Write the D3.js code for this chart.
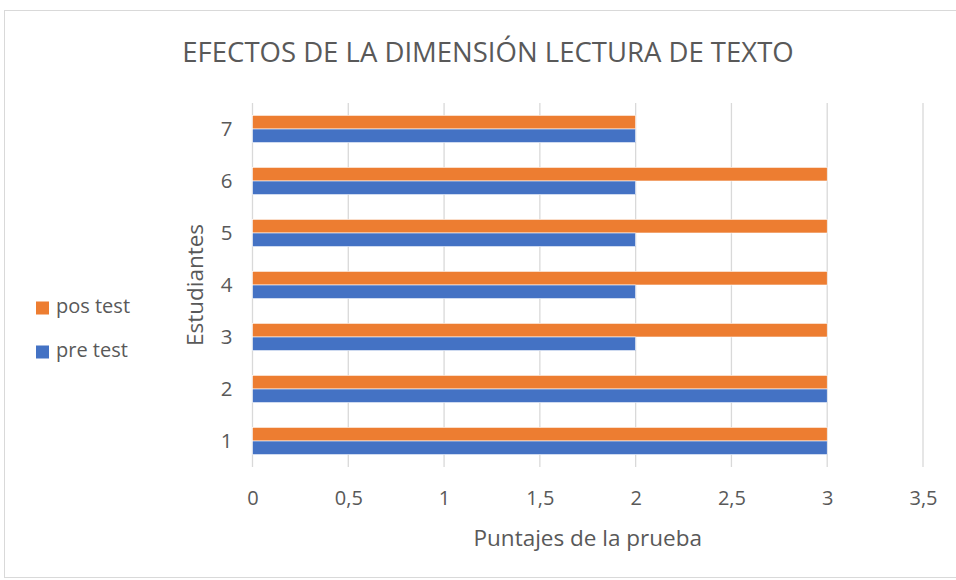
<!DOCTYPE html>
<html>
<head>
<meta charset="utf-8">
<script src="https://cdn.jsdelivr.net/npm/d3@7"></script>
<style>
  body { margin: 0; background: #fff; }
  text { font-family: "Open Sans", "Noto Sans", sans-serif; fill: #595959; }
</style>
</head>
<body>
<div id="chart"></div>
<script>
// data
var students = ["1", "2", "3", "4", "5", "6", "7"];
var preTest = [3, 3, 2, 2, 2, 2, 2];
var posTest = [3, 3, 3, 3, 3, 3, 2];
var xTicks = [0, 0.5, 1, 1.5, 2, 2.5, 3, 3.5];
var seriesNames = ["pos test", "pre test"];
var seriesColors = ["#ED7D31", "#4472C4"];

var width = 956, height = 580;
var margin = {top: 103, right: 33, bottom: 113, left: 252.5};
var innerW = width - margin.left - margin.right,
    innerH = height - margin.top - margin.bottom;

var svg = d3.select("#chart").append("svg")
    .attr("width", width)
    .attr("height", height);

// chart border
svg.append("rect")
    .attr("x", 4.5).attr("y", 10.5)
    .attr("width", 960).attr("height", 567)
    .attr("fill", "none")
    .attr("stroke", "#d9d9d9");

var g = svg.append("g")
    .attr("transform", "translate(" + margin.left + "," + margin.top + ")");

var x = d3.scaleLinear().domain([0, 3.5]).range([0, innerW]);
var y = d3.scaleBand().domain(students.slice().reverse()).range([0, innerH]).paddingInner(0.475).paddingOuter(0.2375);
var y1 = d3.scaleBand().domain(seriesNames).range([0, y.bandwidth()]);

// gridlines
g.selectAll(".grid").data(xTicks).enter().append("line")
    .attr("x1", function(d) { return x(d); })
    .attr("x2", function(d) { return x(d); })
    .attr("y1", 0).attr("y2", innerH)
    .attr("stroke", "#d9d9d9")
    .attr("stroke-width", 1.3);

// bars
var rows = students.map(function(s, i) {
  return {student: s, values: [posTest[i], preTest[i]]};
});

var grp = g.selectAll(".row").data(rows).enter().append("g")
    .attr("transform", function(d) { return "translate(0," + y(d.student) + ")"; });

grp.selectAll("rect").data(function(d) { return d.values; }).enter().append("rect")
    .attr("x", x(0))
    .attr("y", function(d, i) { return y1(seriesNames[i]); })
    .attr("width", function(d) { return x(d) - x(0); })
    .attr("height", y1.bandwidth())
    .attr("fill", function(d, i) { return seriesColors[i]; })
    .attr("stroke", "#fff")
    .attr("stroke-width", 0.6);

// x axis labels
var fmt = function(d) { return String(d).replace(".", ","); };
var xAxis = g.append("g")
    .attr("transform", "translate(0," + innerH + ")")
    .call(d3.axisBottom(x).tickValues(xTicks).tickFormat(fmt).tickSize(0).tickPadding(24));
xAxis.select(".domain").remove();
xAxis.selectAll("text").style("font-size", "20px").attr("fill", "#595959");

// y axis labels
var yAxis = g.append("g")
    .call(d3.axisLeft(y).tickSize(0).tickPadding(20));
yAxis.select(".domain").remove();
yAxis.selectAll("text").style("font-size", "20.5px").attr("fill", "#595959");

// title
svg.append("text")
    .attr("x", 488).attr("y", 55)
    .attr("text-anchor", "middle")
    .attr("dominant-baseline", "middle")
    .style("font-size", "27.5px")
    .text("EFECTOS DE LA DIMENSIÓN LECTURA DE TEXTO");

// axis titles
svg.append("text")
    .attr("x", margin.left + innerW / 2).attr("y", 540)
    .attr("text-anchor", "middle")
    .attr("dominant-baseline", "middle")
    .style("font-size", "22.5px")
    .text("Puntajes de la prueba");

svg.append("text")
    .attr("transform", "translate(197," + (margin.top + innerH / 2) + ") rotate(-90)")
    .attr("text-anchor", "middle")
    .attr("dominant-baseline", "middle")
    .style("font-size", "22.5px")
    .text("Estudiantes");

// legend
var legend = svg.selectAll(".legend").data(seriesNames).enter().append("g")
    .attr("transform", function(d, i) { return "translate(36," + (308 + i * 44) + ")"; });
legend.append("rect")
    .attr("x", 0).attr("y", -6.5)
    .attr("width", 13).attr("height", 13)
    .attr("fill", function(d, i) { return seriesColors[i]; });
legend.append("text")
    .attr("x", 20).attr("y", 0)
    .attr("dominant-baseline", "middle")
    .style("font-size", "20px")
    .text(function(d) { return d; });
</script>
</body>
</html>
